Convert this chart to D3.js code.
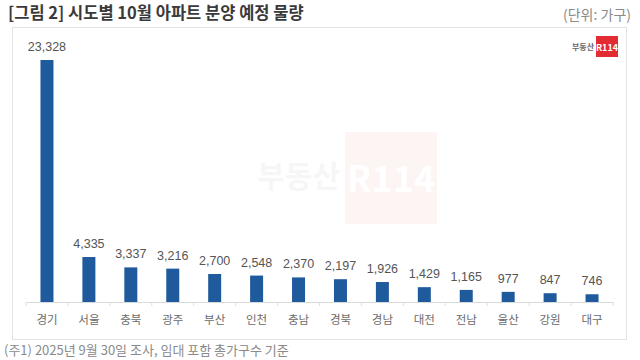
<!DOCTYPE html>
<html><head><meta charset="utf-8">
<script src="https://cdn.jsdelivr.net/npm/d3@7"></script>
<style>body{margin:0;background:#fff;}svg{display:block;font-family:"Noto Sans CJK KR","Noto Sans",sans-serif;}</style>
</head><body>
<svg id="c" width="640" height="360"></svg>
<script>
const categories = ["경기","서울","충북","광주","부산","인천","충남","경북","경남","대전","전남","울산","강원","대구"];
const values = [23328,4335,3337,3216,2700,2548,2370,2197,1926,1429,1165,977,847,746];
const title = "[그림 2] 시도별 10월 아파트 분양 예정 물량";
const unitLabel = "(단위: 가구)";
const footnote = "(주1) 2025년 9월 30일 조사, 임대 포함 총가구수 기준";

const svg = d3.select("#c");
// frame
svg.append("rect").attr("x",12.5).attr("y",27.5).attr("width",614).attr("height",312).attr("fill","#fff").attr("stroke","#e3e3e3");
// title
svg.append("text").attr("x",8).attr("y",19).attr("font-size",16.5).attr("font-weight","bold").attr("fill","#3a3a3a").text(title);
svg.append("text").attr("x",631).attr("y",20).attr("text-anchor","end").attr("font-size",14).attr("fill","#8a8a8a").text(unitLabel);
svg.append("text").attr("x",4).attr("y",355).attr("font-size",13).attr("fill","#8a8a8a").text(footnote);

// watermark
const wm = svg.append("g").attr("opacity",0.06);
wm.append("text").attr("x",340).attr("y",187).attr("text-anchor","end").attr("font-size",30).attr("font-weight","bold").attr("fill","#777").text("부동산");
wm.append("rect").attr("x",345).attr("y",132).attr("width",92).attr("height",92).attr("fill","#e8545a");
wm.append("text").attr("x",391).attr("y",192).attr("text-anchor","middle").attr("font-size",36).attr("font-weight","bold").attr("fill","#fff").text("R114");

// small logo
svg.append("rect").attr("x",596).attr("y",36).attr("width",22).attr("height",21).attr("fill","#e32b32");
svg.append("text").attr("x",607).attr("y",51).attr("text-anchor","middle").attr("font-size",9).attr("font-weight","bold").attr("fill","#fff").text("R114");
svg.append("text").attr("x",594).attr("y",50).attr("text-anchor","end").attr("font-size",8).attr("font-weight","bold").attr("fill","#666").text("부동산");

const x = d3.scaleBand().domain(categories).range([26,613]).paddingInner(0.69).paddingOuter(0.345);
const y = d3.scaleLinear().domain([0,23328]).range([302,60]);

const axis = svg.append("g").attr("transform","translate(0,302)")
  .call(d3.axisBottom(x).tickSize(0).tickPadding(14));
axis.select(".domain").attr("stroke","#d9d9d9");
axis.selectAll("text").attr("font-size",11.5).attr("fill","#6b6b6b").attr("font-family","Noto Sans CJK KR");
// boundary ticks
const step = x.step();
svg.append("g").selectAll("line").data(d3.range(categories.length+1)).join("line")
  .attr("x1",i=>26+i*step).attr("x2",i=>26+i*step).attr("y1",302).attr("y2",306).attr("stroke","#e0e0e0");

svg.append("g").selectAll("rect").data(values).join("rect")
  .attr("x",(d,i)=>x(categories[i])).attr("width",x.bandwidth())
  .attr("y",d=>y(d)).attr("height",d=>302-y(d)).attr("fill","#1f5a9c");

svg.append("g").selectAll("text").data(values).join("text")
  .attr("x",(d,i)=>x(categories[i])+x.bandwidth()/2).attr("y",d=>y(d)-9)
  .attr("text-anchor","middle").attr("font-size",12.5).attr("fill","#555").attr("font-family","Liberation Sans, Arial")
  .text(d=>d3.format(",")(d));
</script>
</body></html>
